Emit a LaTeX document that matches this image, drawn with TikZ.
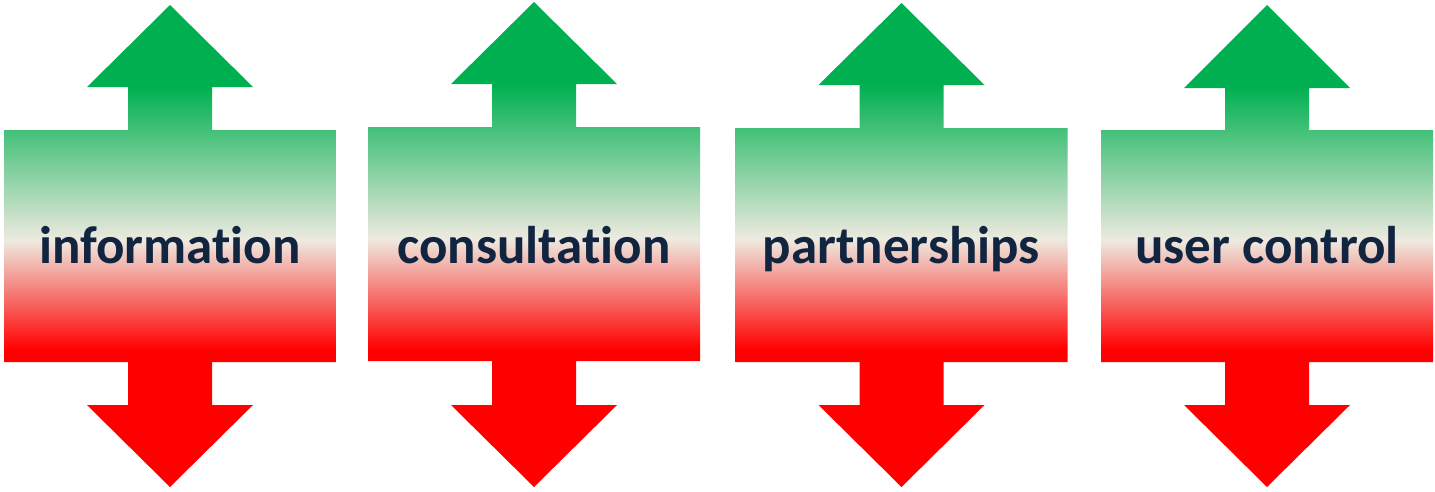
\documentclass[tikz,border=0pt]{standalone}
\usepackage{fontspec}
\setmainfont{Carlito}[Ligatures={NoCommon}]
\definecolor{arrgreen}{RGB}{0,176,80}
\definecolor{arrcream}{RGB}{238,234,224}
\definecolor{arrred}{RGB}{255,0,0}
\definecolor{lbltext}{RGB}{17,36,64}
\pgfdeclareverticalshading{gradgr}{100bp}{color(0bp)=(arrred); color(39.2bp)=(arrred); color(50.6bp)=(arrcream); color(66.5bp)=(arrgreen); color(100bp)=(arrgreen)}
\tikzset{
  updown/.style={shading=gradgr, draw=none},
  lbl/.style={text=lbltext, font=\fontsize{53}{60}\selectfont\bfseries, inner sep=0pt, anchor=base}
}
\newcommand\myvarrow[7]{%
  \shade[updown] (#2,#3) -- ({#2+83},#4) -- ({#2+42},#4) -- ({#2+42},#5) -- ({#2+166},#5)
    -- ({#2+166},#6) -- ({#2+42},#6) -- ({#2+42},405) -- ({#2+83},405) -- (#2,487)
    -- ({#2-83},405) -- ({#2-42},405) -- ({#2-42},#6) -- ({#2-166},#6) -- ({#2-166},#5)
    -- ({#2-42},#5) -- ({#2-42},#4) -- ({#2-83},#4) -- cycle;
  \node[lbl] (#1) at (#2,263) {#7};
}
\begin{document}
\begin{tikzpicture}[x=1pt,y=-1pt]
\useasboundingbox (0,0) rectangle (1435,491);
\myvarrow{info}{170}{5}{87}{130}{362}{information}
\myvarrow{cons}{534}{2}{84}{127}{361}{consultation}
\myvarrow{part}{901.5}{3}{85}{128}{362}{partnerships}
\myvarrow{user}{1267}{5}{88}{130}{362}{user control}
\end{tikzpicture}
\end{document}
